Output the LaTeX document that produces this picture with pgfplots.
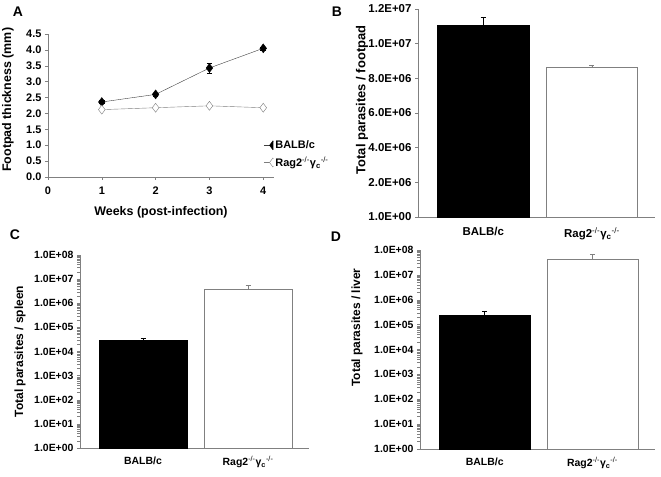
\documentclass[border=0pt]{standalone}
\usepackage{fontspec}
\setmainfont{Liberation Sans}
\usepackage{pgfplots}
\pgfplotsset{compat=1.18}

\definecolor{axgray}{RGB}{128,128,128}
\definecolor{ragline}{RGB}{125,125,125}

\newcommand{\rag}{Rag2\textsuperscript{\mdseries -/-}γ\textsubscript{c}\textsuperscript{\mdseries -/-}}

\pgfplotsset{
  panel/.style={
    scale only axis,
    anchor=south west,
    axis lines*=left,
    axis line style={axgray,-},
    tick style={axgray, thin},
    tick align=outside,
    major tick length=3bp,
    clip=false,
    scaled ticks=false,
  },
  barpanel/.style={
    panel,
    xmin=-0.6, xmax=1.58,
    xtick={0,1},
    xticklabels={BALB/c,\rag},
    xtick style={draw=none},
    ybar, bar width=0.84, bar shift=0pt,
  },
  halflegend/.style={
    legend image code/.code={
      \begin{scope}
      \pgfpathrectangle{\pgfpoint{-1bp}{-6bp}}{\pgfpoint{10.5bp}{12bp}}\pgfusepath{clip}
      \draw[mark repeat=2,mark phase=2,##1] plot coordinates {(0bp,0bp) (9bp,0bp) (9bp,0bp)};
      \end{scope}}
  },
}

\begin{document}
\begin{tikzpicture}
\useasboundingbox (0,0) rectangle (661bp,477bp);

% ---------- A ----------
\begin{axis}[panel,
  at={(48bp,300bp)}, width=226bp, height=143bp,
  xmin=0, xmax=4.2, ymin=0, ymax=4.5,
  xtick={0,1,2,3,4},
  xticklabels={0,1,2,3,4},
  ytick={0,0.5,...,4.5},
  yticklabels={0.0,0.5,1.0,1.5,2.0,2.5,3.0,3.5,4.0,4.5},
  ticklabel style={font=\fontsize{11}{12}\selectfont\bfseries},
  xticklabel style={yshift=-3bp},
  xlabel={Weeks (post-infection)},
  ylabel={Footpad thickness (mm)},
  label style={font=\fontsize{12.5}{14}\selectfont\bfseries},
  xlabel style={at={(axis description cs:0.5,-0.245)}, anchor=center},
  ylabel style={at={(axis description cs:-0.177,0.54)}, anchor=center},
  legend style={draw=none, fill=none, at={(axis description cs:0.95,0.27)},
    anchor=north west, font=\fontsize{11}{12}\selectfont\bfseries,
    row sep=3bp, inner sep=0pt},
  legend cell align=left,
]
\addplot[black!75, halflegend, mark=diamond*, mark size=4.5,
  mark options={fill=black, draw=black, solid},
  error bars/.cd, y dir=both, y explicit,
  error bar style={black}, error mark options={rotate=90, mark size=2.8, black}]
coordinates {(1,2.36) +- (0,0.05) (2,2.60) +- (0,0.05) (3,3.43) +- (0,0.16) (4,4.05) +- (0,0.05)};
\addlegendentry{BALB/c}
\addplot[ragline, halflegend, mark=diamond*, mark size=4.5,
  mark options={fill=white, draw=ragline, solid}]
coordinates {(1,2.12) (2,2.18) (3,2.24) (4,2.18)};
\addlegendentry{\rag}
\end{axis}
\node[font=\fontsize{14}{16}\selectfont\bfseries] at (18bp,465bp) {A};

% ---------- B ----------
\begin{axis}[barpanel,
  at={(418bp,260bp)}, width=237bp, height=208bp,
  ymin=0, ymax=1.2e7,
  ytick={0,2e6,4e6,6e6,8e6,1e7,1.2e7},
  yticklabels={1.0E+00,2.0E+06,4.0E+06,6.0E+06,8.0E+06,1.0E+07,1.2E+07},
  ticklabel style={font=\fontsize{11.5}{13}\selectfont\bfseries},
  xticklabel style={yshift=-4bp},
  ylabel={Total parasites / footpad},
  label style={font=\fontsize{13}{15}\selectfont\bfseries},
  ylabel style={at={(axis description cs:-0.236,0.5625)}, anchor=center},
]
\addplot[fill=black, draw=black,
  error bars/.cd, y dir=plus, y explicit,
  error bar style={black}, error mark options={rotate=90, mark size=2.5, black}]
coordinates {(0,1.104e7) +- (0,0.046e7)};
\addplot[fill=white, draw=axgray,
  error bars/.cd, y dir=plus, y explicit,
  error bar style={axgray}, error mark options={rotate=90, mark size=2.5, axgray}]
coordinates {(1,8.65e6) +- (0,0.1e6)};
\end{axis}
\node[font=\fontsize{14}{16}\selectfont\bfseries] at (337bp,465bp) {B};

% ---------- C ----------
\begin{axis}[barpanel,
  at={(80bp,29bp)}, width=229bp, height=193bp,
  ymode=log, ymin=1, ymax=1e8, log origin=0,
  ytick={1,1e1,1e2,1e3,1e4,1e5,1e6,1e7,1e8},
  yticklabels={1.0E+00,1.0E+01,1.0E+02,1.0E+03,1.0E+04,1.0E+05,1.0E+06,1.0E+07,1.0E+08},
  minor ytick={},
  ticklabel style={font=\fontsize{10.5}{12}\selectfont\bfseries},
  xticklabel style={yshift=-2bp},
  ylabel={Total parasites / spleen},
  label style={font=\fontsize{12}{14}\selectfont\bfseries},
  ylabel style={at={(axis description cs:-0.262,0.5)}, anchor=center},
]
\addplot[fill=black, draw=black,
  error bars/.cd, y dir=plus, y explicit,
  error bar style={black}, error mark options={rotate=90, mark size=2.5, black}]
coordinates {(0,2.85e4) +- (0,0.75e4)};
\addplot[fill=white, draw=axgray,
  error bars/.cd, y dir=plus, y explicit,
  error bar style={axgray}, error mark options={rotate=90, mark size=2.5, axgray}]
coordinates {(1,3.8e6) +- (0,1.6e6)};
\end{axis}
\node[font=\fontsize{14}{16}\selectfont\bfseries] at (15bp,242bp) {C};

% ---------- D ----------
\begin{axis}[barpanel,
  at={(420bp,28bp)}, width=235bp, height=199bp,
  ymode=log, ymin=1, ymax=1e8, log origin=0,
  ytick={1,1e1,1e2,1e3,1e4,1e5,1e6,1e7,1e8},
  yticklabels={1.0E+00,1.0E+01,1.0E+02,1.0E+03,1.0E+04,1.0E+05,1.0E+06,1.0E+07,1.0E+08},
  minor ytick={},
  ticklabel style={font=\fontsize{10.5}{12}\selectfont\bfseries},
  xticklabel style={yshift=-2bp},
  ylabel={Total parasites / liver},
  label style={font=\fontsize{12}{14}\selectfont\bfseries},
  ylabel style={at={(axis description cs:-0.268,0.61)}, anchor=center},
]
\addplot[fill=black, draw=black,
  error bars/.cd, y dir=plus, y explicit,
  error bar style={black}, error mark options={rotate=90, mark size=2.5, black}]
coordinates {(0,2.4e5) +- (0,1.1e5)};
\addplot[fill=white, draw=axgray,
  error bars/.cd, y dir=plus, y explicit,
  error bar style={axgray}, error mark options={rotate=90, mark size=2.5, axgray}]
coordinates {(1,4.4e7) +- (0,2.5e7)};
\end{axis}
\node[font=\fontsize{14}{16}\selectfont\bfseries] at (336bp,240bp) {D};
\end{tikzpicture}
\end{document}
